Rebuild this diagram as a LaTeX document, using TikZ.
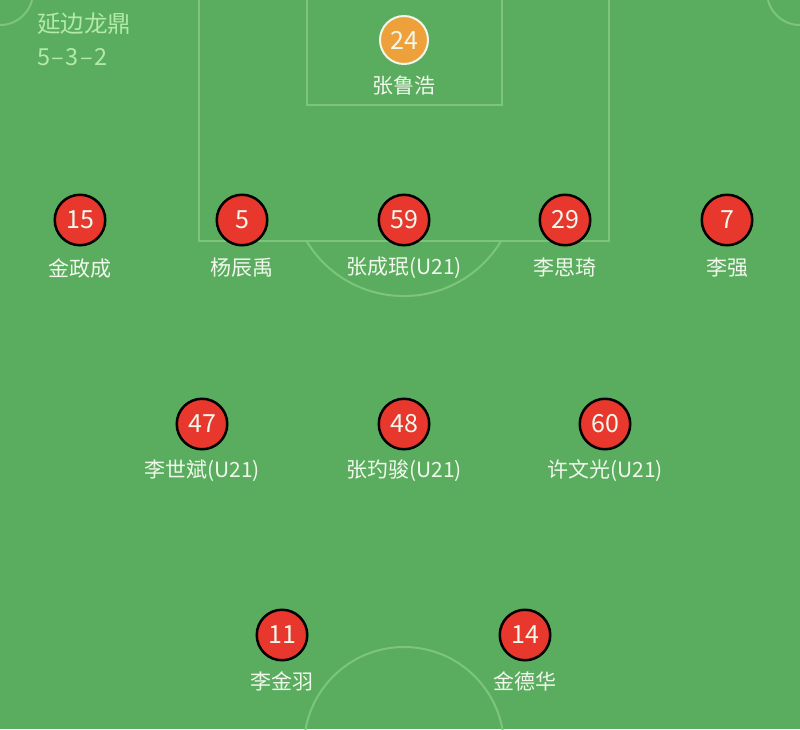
\documentclass[tikz,border=0pt]{standalone}
\usepackage{fontspec}
\setmainfont{Noto Sans CJK SC}
\definecolor{pitch}{RGB}{90,172,94}
\definecolor{pline}{RGB}{124,198,124}
\definecolor{pred}{RGB}{232,55,44}
\definecolor{porange}{RGB}{238,160,58}
\definecolor{ptitle}{RGB}{178,234,168}
\definecolor{pname}{RGB}{240,248,236}
\tikzset{
  fieldline/.style={draw=pline, line width=2pt},
  player/.style={circle, fill=pred, draw=black, line width=2.5pt, minimum size=50.5pt, inner sep=0pt, text=pname, font=\fontsize{25}{26}\selectfont},
  keeper/.style={circle, fill=porange, draw=pname, line width=2pt, minimum size=48pt, inner sep=0pt, text=pname, font=\fontsize{25}{26}\selectfont},
  pname/.style={text=pname, inner sep=0pt, font=\fontsize{21}{23}\selectfont},
  ttl/.style={text=ptitle, inner sep=0pt, anchor=west, font=\fontsize{23.5}{25}\selectfont}
}
\begin{document}
\begin{tikzpicture}[x=1pt,y=-1pt]
\fill[pitch] (0,0) rectangle (800,729);
\useasboundingbox (0,0) rectangle (800,729);
\begin{scope}
\clip (0,0) rectangle (800,729);
% penalty area
\draw[fieldline] (199,-5) -- (199,241) -- (609,241) -- (609,-5);
% goal area
\draw[fieldline] (307,-5) -- (307,105) -- (502,105) -- (502,-5);
% penalty arc
\draw[fieldline] (306.5,241) arc[start angle=149, end angle=31, radius=113.5];
% corner arcs
\draw[fieldline] (0,-8) circle[radius=33];
\draw[fieldline] (800,-8) circle[radius=33];
% centre circle
\draw[fieldline] (404,747) circle[radius=100];
\end{scope}
% title
\node[ttl] (team) at (37,24) {延边龙鼎};
\node[ttl] (form) at (37,57) {5\kern1.5pt–\kern1.5pt3\kern1.5pt–\kern1.5pt2};
% goalkeeper
\node[keeper] (p24) at (404,40) {24};
\node[pname] (n24) at (404,86) {张鲁浩};
% defenders
\node[player] (p15) at (80,220) {15};
\node[pname] (n15) at (80,268) {金政成};
\node[player] (p5) at (242,220) {5};
\node[pname] (n5) at (242,268) {杨辰禹};
\node[player] (p59) at (404,220) {59};
\node[pname] (n59) at (404,268) {张成珉(U21)};
\node[player] (p29) at (565,220) {29};
\node[pname] (n29) at (565,268) {李思琦};
\node[player] (p7) at (727,220) {7};
\node[pname] (n7) at (727,268) {李强};
% midfielders
\node[player] (p47) at (202,424) {47};
\node[pname] (n47) at (202,471) {李世斌(U21)};
\node[player] (p48) at (404,424) {48};
\node[pname] (n48) at (404,471) {张玓骏(U21)};
\node[player] (p60) at (605,424) {60};
\node[pname] (n60) at (605,471) {许文光(U21)};
% forwards
\node[player] (p11) at (282,635) {11};
\node[pname] (n11) at (282,681) {李金羽};
\node[player] (p14) at (525,635) {14};
\node[pname] (n14) at (525,681) {金德华};
\end{tikzpicture}
\end{document}
